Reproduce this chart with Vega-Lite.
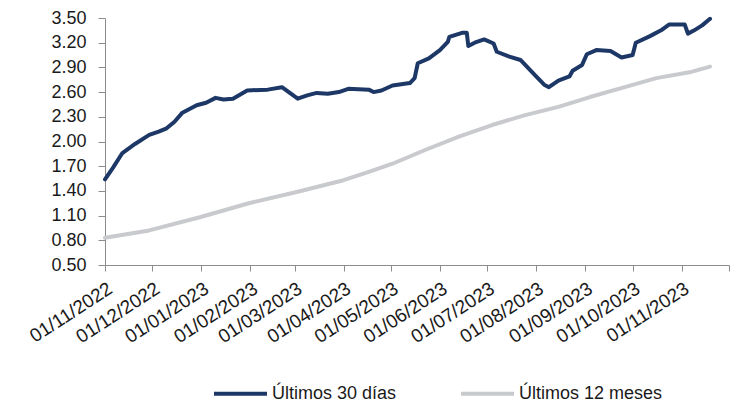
{
  "$schema": "https://vega.github.io/schema/vega-lite/v6.json",
  "width": 624,
  "height": 247,
  "autosize": {"type": "none"},
  "padding": {"left": 105, "top": 18, "right": 8, "bottom": 139},
  "background": "white",
  "config": {
    "view": {"stroke": null},
    "font": "Liberation Sans",
    "axis": {"labelFont": "Liberation Sans", "labelColor": "#1a1a1a", "domainColor": "#8c8c8c", "tickColor": "#8c8c8c", "grid": false, "title": null}
  },
  "data": {
    "values": [
      {"date": "2022-11-01", "value": 1.54, "series": "Últimos 30 días"},
      {"date": "2022-11-06", "value": 1.68, "series": "Últimos 30 días"},
      {"date": "2022-11-12", "value": 1.86, "series": "Últimos 30 días"},
      {"date": "2022-11-20", "value": 1.97, "series": "Últimos 30 días"},
      {"date": "2022-11-29", "value": 2.08, "series": "Últimos 30 días"},
      {"date": "2022-12-05", "value": 2.12, "series": "Últimos 30 días"},
      {"date": "2022-12-10", "value": 2.16, "series": "Últimos 30 días"},
      {"date": "2022-12-15", "value": 2.24, "series": "Últimos 30 días"},
      {"date": "2022-12-20", "value": 2.35, "series": "Últimos 30 días"},
      {"date": "2022-12-29", "value": 2.44, "series": "Últimos 30 días"},
      {"date": "2023-01-04", "value": 2.47, "series": "Últimos 30 días"},
      {"date": "2023-01-10", "value": 2.53, "series": "Últimos 30 días"},
      {"date": "2023-01-15", "value": 2.51, "series": "Últimos 30 días"},
      {"date": "2023-01-21", "value": 2.52, "series": "Últimos 30 días"},
      {"date": "2023-01-30", "value": 2.62, "series": "Últimos 30 días"},
      {"date": "2023-02-12", "value": 2.63, "series": "Últimos 30 días"},
      {"date": "2023-02-21", "value": 2.66, "series": "Últimos 30 días"},
      {"date": "2023-02-26", "value": 2.59, "series": "Últimos 30 días"},
      {"date": "2023-03-03", "value": 2.52, "series": "Últimos 30 días"},
      {"date": "2023-03-09", "value": 2.56, "series": "Últimos 30 días"},
      {"date": "2023-03-15", "value": 2.59, "series": "Últimos 30 días"},
      {"date": "2023-03-22", "value": 2.58, "series": "Últimos 30 días"},
      {"date": "2023-03-29", "value": 2.60, "series": "Últimos 30 días"},
      {"date": "2023-04-04", "value": 2.64, "series": "Últimos 30 días"},
      {"date": "2023-04-17", "value": 2.63, "series": "Últimos 30 días"},
      {"date": "2023-04-20", "value": 2.60, "series": "Últimos 30 días"},
      {"date": "2023-04-25", "value": 2.62, "series": "Últimos 30 días"},
      {"date": "2023-05-02", "value": 2.68, "series": "Últimos 30 días"},
      {"date": "2023-05-13", "value": 2.71, "series": "Últimos 30 días"},
      {"date": "2023-05-16", "value": 2.77, "series": "Últimos 30 días"},
      {"date": "2023-05-18", "value": 2.95, "series": "Últimos 30 días"},
      {"date": "2023-05-25", "value": 3.01, "series": "Últimos 30 días"},
      {"date": "2023-06-01", "value": 3.11, "series": "Últimos 30 días"},
      {"date": "2023-06-06", "value": 3.21, "series": "Últimos 30 días"},
      {"date": "2023-06-07", "value": 3.27, "series": "Últimos 30 días"},
      {"date": "2023-06-15", "value": 3.32, "series": "Últimos 30 días"},
      {"date": "2023-06-18", "value": 3.32, "series": "Últimos 30 días"},
      {"date": "2023-06-19", "value": 3.16, "series": "Últimos 30 días"},
      {"date": "2023-06-23", "value": 3.20, "series": "Últimos 30 días"},
      {"date": "2023-06-29", "value": 3.24, "series": "Últimos 30 días"},
      {"date": "2023-07-05", "value": 3.19, "series": "Últimos 30 días"},
      {"date": "2023-07-07", "value": 3.09, "series": "Últimos 30 días"},
      {"date": "2023-07-15", "value": 3.03, "series": "Últimos 30 días"},
      {"date": "2023-07-22", "value": 2.99, "series": "Últimos 30 días"},
      {"date": "2023-07-31", "value": 2.81, "series": "Últimos 30 días"},
      {"date": "2023-08-06", "value": 2.69, "series": "Últimos 30 días"},
      {"date": "2023-08-09", "value": 2.66, "series": "Últimos 30 días"},
      {"date": "2023-08-15", "value": 2.74, "series": "Últimos 30 días"},
      {"date": "2023-08-22", "value": 2.79, "series": "Últimos 30 días"},
      {"date": "2023-08-24", "value": 2.86, "series": "Últimos 30 días"},
      {"date": "2023-08-30", "value": 2.93, "series": "Últimos 30 días"},
      {"date": "2023-09-02", "value": 3.06, "series": "Últimos 30 días"},
      {"date": "2023-09-08", "value": 3.11, "series": "Últimos 30 días"},
      {"date": "2023-09-17", "value": 3.10, "series": "Últimos 30 días"},
      {"date": "2023-09-24", "value": 3.02, "series": "Últimos 30 días"},
      {"date": "2023-10-01", "value": 3.05, "series": "Últimos 30 días"},
      {"date": "2023-10-03", "value": 3.20, "series": "Últimos 30 días"},
      {"date": "2023-10-12", "value": 3.28, "series": "Últimos 30 días"},
      {"date": "2023-10-19", "value": 3.35, "series": "Últimos 30 días"},
      {"date": "2023-10-24", "value": 3.42, "series": "Últimos 30 días"},
      {"date": "2023-11-03", "value": 3.42, "series": "Últimos 30 días"},
      {"date": "2023-11-05", "value": 3.31, "series": "Últimos 30 días"},
      {"date": "2023-11-09", "value": 3.35, "series": "Últimos 30 días"},
      {"date": "2023-11-14", "value": 3.41, "series": "Últimos 30 días"},
      {"date": "2023-11-19", "value": 3.49, "series": "Últimos 30 días"},
      {"date": "2022-11-01", "value": 0.83, "series": "Últimos 12 meses"},
      {"date": "2022-11-29", "value": 0.92, "series": "Últimos 12 meses"},
      {"date": "2022-12-31", "value": 1.08, "series": "Últimos 12 meses"},
      {"date": "2023-01-31", "value": 1.25, "series": "Últimos 12 meses"},
      {"date": "2023-03-03", "value": 1.39, "series": "Últimos 12 meses"},
      {"date": "2023-04-01", "value": 1.53, "series": "Últimos 12 meses"},
      {"date": "2023-04-17", "value": 1.63, "series": "Últimos 12 meses"},
      {"date": "2023-05-02", "value": 1.73, "series": "Últimos 12 meses"},
      {"date": "2023-05-23", "value": 1.90, "series": "Últimos 12 meses"},
      {"date": "2023-06-13", "value": 2.06, "series": "Últimos 12 meses"},
      {"date": "2023-07-04", "value": 2.20, "series": "Últimos 12 meses"},
      {"date": "2023-07-25", "value": 2.32, "series": "Últimos 12 meses"},
      {"date": "2023-08-15", "value": 2.42, "series": "Últimos 12 meses"},
      {"date": "2023-09-04", "value": 2.54, "series": "Últimos 12 meses"},
      {"date": "2023-09-26", "value": 2.66, "series": "Últimos 12 meses"},
      {"date": "2023-10-16", "value": 2.77, "series": "Últimos 12 meses"},
      {"date": "2023-11-06", "value": 2.84, "series": "Últimos 12 meses"},
      {"date": "2023-11-19", "value": 2.91, "series": "Últimos 12 meses"}
    ]
  },
  "mark": {"type": "line", "strokeWidth": 4, "strokeJoin": "round", "strokeCap": "round"},
  "encoding": {
    "x": {
      "field": "date",
      "type": "temporal",
      "scale": {
        "type": "utc",
        "domain": [
          {"year": 2022, "month": 11, "date": 1, "utc": true},
          {"year": 2023, "month": 12, "date": 1, "utc": true}
        ]
      },
      "axis": {
        "values": [
          {"year": 2022, "month": 11, "date": 1, "utc": true},
          {"year": 2022, "month": 12, "date": 1, "utc": true},
          {"year": 2023, "month": 1, "date": 1, "utc": true},
          {"year": 2023, "month": 2, "date": 1, "utc": true},
          {"year": 2023, "month": 3, "date": 1, "utc": true},
          {"year": 2023, "month": 4, "date": 1, "utc": true},
          {"year": 2023, "month": 5, "date": 1, "utc": true},
          {"year": 2023, "month": 6, "date": 1, "utc": true},
          {"year": 2023, "month": 7, "date": 1, "utc": true},
          {"year": 2023, "month": 8, "date": 1, "utc": true},
          {"year": 2023, "month": 9, "date": 1, "utc": true},
          {"year": 2023, "month": 10, "date": 1, "utc": true},
          {"year": 2023, "month": 11, "date": 1, "utc": true},
          {"year": 2023, "month": 12, "date": 1, "utc": true}
        ],
        "labelExpr": "utcyear(datum.value) == 2023 && utcmonth(datum.value) == 11 ? '' : utcFormat(datum.value, '%d/%m/%Y')",
        "labelAngle": -33,
        "labelAlign": "right",
        "labelBaseline": "top",
        "labelFontSize": 19,
        "labelPadding": 8,
        "tickSize": 6,
        "labelOverlap": false,
        "labelFlush": false
      }
    },
    "y": {
      "field": "value",
      "type": "quantitative",
      "scale": {"domain": [0.5, 3.5], "nice": false, "zero": false},
      "axis": {
        "values": [0.5, 0.8, 1.1, 1.4, 1.7, 2.0, 2.3, 2.6, 2.9, 3.2, 3.5],
        "format": ".2f",
        "labelFontSize": 18,
        "tickSize": 7,
        "labelPadding": 12,
        "labelFlush": false,
        "labelOverlap": false
      }
    },
    "color": {
      "field": "series",
      "type": "nominal",
      "scale": {"domain": ["Últimos 30 días", "Últimos 12 meses"], "range": ["#1d3866", "#c8cacd"]},
      "legend": {
        "title": null,
        "orient": "none",
        "direction": "horizontal",
        "legendX": 107,
        "legendY": 347,
        "padding": 0,
        "symbolType": "stroke",
        "symbolSize": 2809,
        "symbolStrokeWidth": 4,
        "labelFontSize": 18,
        "labelFont": "Liberation Sans",
        "labelColor": "#1a1a1a",
        "labelOffset": 3,
        "columnPadding": 56,
        "labelLimit": 300
      }
    }
  }
}
